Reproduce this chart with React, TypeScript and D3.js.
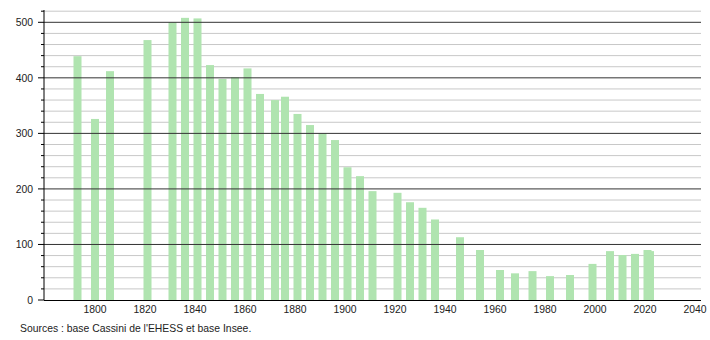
import React from "react";
import * as d3 from "d3";

const years = [1793, 1800, 1806, 1821, 1831, 1836, 1841, 1846, 1851, 1856, 1861, 1866, 1872, 1876, 1881, 1886, 1891, 1896, 1901, 1906, 1911, 1921, 1926, 1931, 1936, 1946, 1954, 1962, 1968, 1975, 1982, 1990, 1999, 2006, 2011, 2016, 2021, 2022];
const population = [439, 326, 412, 468, 500, 508, 507, 423, 398, 401, 417, 371, 360, 366, 335, 315, 300, 288, 239, 223, 196, 193, 176, 166, 145, 113, 90, 54, 48, 52, 43, 45, 65, 88, 81, 83, 90, 88];
const xTicks = [1800, 1820, 1840, 1860, 1880, 1900, 1920, 1940, 1960, 1980, 2000, 2020, 2040];
const yMajor = [0, 100, 200, 300, 400, 500];
const yMinor = d3.range(20, 540, 20).filter((v) => v % 100 !== 0);
const source = "Sources : base Cassini de l'EHESS et base Insee.";

export default function App() {
  const W = 710, H = 340;
  const x = d3.scaleLinear().domain([1780, 2040]).range([45, 695]);
  const y = d3.scaleLinear().domain([0, 500]).range([300, 22.3]);
  const x0 = 44, x1 = 701;
  const barW = 8;
  const font = "'Liberation Sans', Arial, sans-serif";
  const fs = 10.4;
  return (
    <svg width={W} height={H} style={{ position: "absolute", left: 0, top: 0 }} fontFamily={font}>
      <rect width={W} height={H} fill="#fff" />
      {yMinor.map((v) => (
        <g key={"m" + v}>
          <line x1={x0} x2={x1} y1={y(v)} y2={y(v)} stroke="#c8c8c8" strokeWidth={1} />
          <line x1={41} x2={x0} y1={y(v)} y2={y(v)} stroke="#000" strokeWidth={1} />
        </g>
      ))}
      {years.map((yr, i) => (
        <rect key={yr} x={x(yr) - barW / 2} y={y(population[i])} width={barW} height={y(0) - y(population[i])} fill="#b0e4b0" />
      ))}
      {yMajor.map((v) => (
        <g key={"M" + v}>
          {v > 0 && <line x1={x0} x2={x1} y1={y(v)} y2={y(v)} stroke="#333" strokeWidth={1} />}
          <line x1={38} x2={x0} y1={y(v)} y2={y(v)} stroke="#000" strokeWidth={1} />
          <text x={33} y={y(v) + 4} textAnchor="end" fontSize={fs} fill="#222">{v}</text>
        </g>
      ))}
      <line x1={x0} x2={x0} y1={10} y2={300} stroke="#000" strokeWidth={1} />
      <line x1={x0} x2={x1} y1={300.5} y2={300.5} stroke="#000" strokeWidth={1} />
      {xTicks.map((t) => (
        <text key={t} x={x(t)} y={313} textAnchor="middle" fontSize={fs} fill="#222">{t}</text>
      ))}
      <text x={20} y={332} fontSize={fs} fill="#222">{source}</text>
    </svg>
  );
}
